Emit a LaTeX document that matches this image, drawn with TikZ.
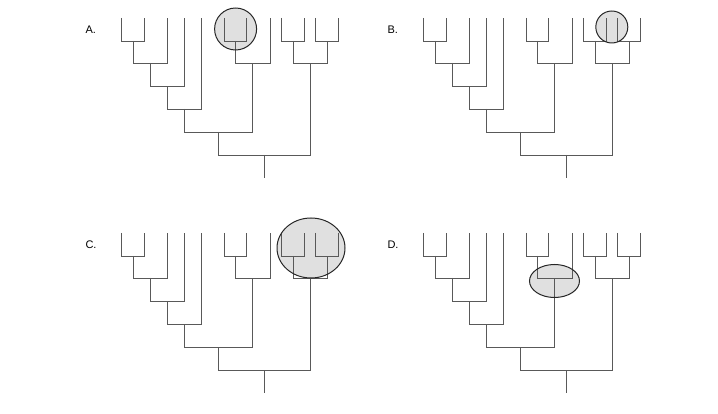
\documentclass[tikz,border=0pt]{standalone}
\usepackage{fontspec}
\setmainfont{Liberation Sans}
\begin{document}
\begin{tikzpicture}[x=1pt,y=-1pt,
  br/.style={draw=black!65,line width=0.7pt},
  hl/.style={fill=black!12},
  hlb/.style={draw=black!85,line width=1pt},
  lab/.style={font=\fontsize{11}{13}\selectfont,anchor=west}]
\useasboundingbox (0,0) rectangle (718,414);
\newcommand\mytree[2]{%
 \begin{scope}[shift={(#1,#2)}]
  \draw[br] (121.7,18)--(121.7,41)--(144,41)--(144,18);
  \draw[br] (133,41)--(133,63)--(167,63)--(167,18);
  \draw[br] (150,63)--(150,86.7)--(184.7,86.7)--(184.7,18);
  \draw[br] (167,86.7)--(167,109)--(201,109)--(201,18);
  \draw[br] (224,18)--(224,41)--(246,41)--(246,18);
  \draw[br] (235,41)--(235,63)--(270,63)--(270,18);
  \draw[br] (184.7,109)--(184.7,132)--(252.7,132)--(252.7,63);
  \draw[br] (281.7,18)--(281.7,41)--(304,41)--(304,18);
  \draw[br] (315.7,18)--(315.7,41)--(338,41)--(338,18);
  \draw[br] (293,41)--(293,63)--(327,63)--(327,41);
  \draw[br] (218.7,132)--(218.7,155)--(310,155)--(310,63);
  \draw[br] (264,155)--(264,178);
 \end{scope}}
% highlight fills
\fill[hl] (235.6,29) circle (21);
\fill[hl] (611.8,27) circle (16);
\fill[hl] (311,248) ellipse (34 and 30);
\fill[hl] (554.5,281) ellipse (25 and 16.5);
\mytree{0}{0}
\mytree{302}{0}
\mytree{0}{215}
\mytree{302}{215}
\draw[hlb] (235.6,29) circle (21);
\draw[hlb] (611.8,27) circle (16);
\draw[hlb] (311,248) ellipse (34 and 30);
\draw[hlb] (554.5,281) ellipse (25 and 16.5);
\node[lab] (la) at (82,30) {A.};
\node[lab] (lb) at (384,30) {B.};
\node[lab] (lc) at (82,245) {C.};
\node[lab] (ld) at (384,245) {D.};
\end{tikzpicture}
\end{document}
